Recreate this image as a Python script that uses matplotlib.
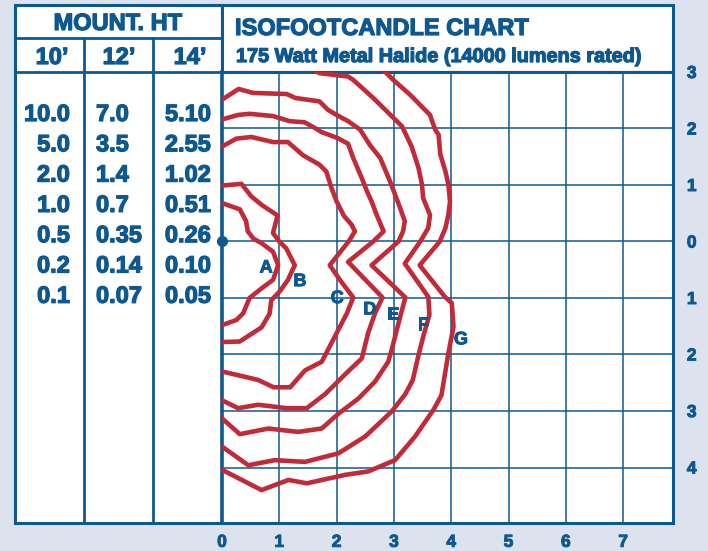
import matplotlib.pyplot as plt
from matplotlib import font_manager as fm
from matplotlib import patheffects as pe
from matplotlib.patches import Rectangle
from matplotlib.ticker import FuncFormatter

BLUE = '#0e5891'
RED = '#c12a37'
BG = '#dce3ee'


def pick_bold_family():
    # first family that really has a bold face installed
    for fam in ['Liberation Sans', 'Arimo', 'Roboto', 'Noto Sans', 'Open Sans', 'Lato', 'DejaVu Sans']:
        try:
            path = fm.findfont(fm.FontProperties(family=fam, weight='bold'), fallback_to_default=False)
        except ValueError:
            continue
        if 'bold' in path.lower():
            return fam
    return 'DejaVu Sans'


FONT = pick_bold_family()
plt.rcParams['font.family'] = [FONT, 'DejaVu Sans']
plt.rcParams['font.weight'] = 'bold'
HEAVY = [pe.withStroke(linewidth=0.9, foreground=BLUE)]

# table data
mount_heights = ["10\u2019", "12\u2019", "14\u2019"]
fc_10ft = ["10.0", "5.0", "2.0", "1.0", "0.5", "0.2", "0.1"]
fc_12ft = ["7.0", "3.5", "1.4", "0.7", "0.35", "0.14", "0.07"]
fc_14ft = ["5.10", "2.55", "1.02", "0.51", "0.26", "0.10", "0.05"]

x_ticks = [0, 1, 2, 3, 4, 5, 6, 7]
y_ticks = [3, 2, 1, 0, -1, -2, -3, -4]

# isofootcandle curves (grid units, y negative below the fixture)
a_x = [0, 0.31, 0.42, 0.45, 0.55, 0.69, 0.89, 0.98, 0.89, 0.69, 0.48, 0.37, 0.25, 0]
a_y = [0.68, 0.57, 0.36, 0.18, 0.05, -0.03, -0.18, -0.42, -0.68, -0.83, -1.0, -1.27, -1.39, -1.48]

b_x = [0, 0.34, 0.51, 0.69, 0.97, 0.89, 1.0, 1.12, 1.27, 1.15, 1.01, 0.86, 0.83, 0.69, 0.31, 0]
b_y = [0.99, 1.02, 0.80, 0.65, 0.46, 0.15, 0.0, -0.12, -0.42, -0.68, -0.88, -1.04, -1.28, -1.52, -1.77, -1.78]

c_x = [0, 0.25, 0.51, 0.89, 1.15, 1.41, 1.70, 1.82, 1.91, 2.0, 2.13, 2.26, 2.32, 2.21, 1.88,
       2.08, 2.29, 2.18, 1.94, 1.74, 1.45, 1.19, 0.90, 0.63, 0]
c_y = [1.68, 1.82, 1.85, 1.76, 1.76, 1.53, 1.36, 1.24, 0.95, 0.71, 0.45, 0.30, 0.18, 0.0, -0.42,
       -0.71, -0.99, -1.27, -1.74, -2.13, -2.28, -2.58, -2.58, -2.45, -2.30]

d_x = [0, 0.28, 0.48, 0.89, 1.18, 1.44, 1.62, 1.73, 2.02, 2.20, 2.29, 2.44, 2.53, 2.61, 2.70, 2.82,
       2.64, 2.20, 2.80, 2.67, 2.55, 2.44, 2.20, 1.80, 1.48, 1.13, 0.63, 0.28, 0]
d_y = [2.16, 2.24, 2.26, 2.22, 2.13, 2.11, 2.01, 1.94, 1.83, 1.73, 1.48, 1.12, 0.89, 0.71, 0.47, 0.18,
       0.0, -0.36, -0.99, -1.27, -1.62, -2.07, -2.30, -2.70, -2.95, -2.95, -2.89, -2.95, -2.81]

e_x = [0, 0.29, 0.54, 1.13, 1.28, 1.70, 1.85, 2.0, 2.20, 2.41, 2.58, 2.76, 2.93, 3.02, 3.11, 3.19,
       3.16, 3.08, 2.61, 3.20, 3.11, 2.96, 2.90, 2.67, 2.38, 2.03, 1.74, 1.33, 0.81, 0.31, 0]
e_y = [2.51, 2.70, 2.63, 2.61, 2.54, 2.48, 2.33, 2.24, 2.13, 1.98, 1.71, 1.48, 1.07, 0.83, 0.59, 0.36,
       0.18, 0.0, -0.42, -0.99, -1.33, -1.92, -2.13, -2.48, -2.78, -3.05, -3.31, -3.37, -3.31, -3.41, -3.13]

f_x = [1.50, 1.70, 2.20, 2.29, 2.64, 2.99, 3.14, 3.31, 3.43, 3.49, 3.51, 3.63, 3.60, 3.46, 3.19,
       3.60, 3.62, 3.52, 3.42, 3.33, 3.20, 2.96, 2.50, 2.03, 1.45, 0.92, 0.46, 0]
f_y = [3.10, 2.98, 2.92, 2.86, 2.54, 2.19, 2.04, 1.68, 1.30, 1.01, 0.77, 0.47, 0.24, 0.0, -0.39,
       -0.98, -1.30, -1.65, -2.05, -2.45, -2.70, -3.01, -3.45, -3.75, -3.90, -3.87, -3.96, -3.63]

g_x = [2.70, 2.87, 2.99, 3.28, 3.63, 3.72, 3.78, 3.81, 3.90, 3.95, 3.98, 3.95, 3.90, 3.80, 3.45,
       3.89, 4.01, 4.04, 3.95, 3.83, 3.69, 3.37, 3.02, 2.55, 2.15, 1.48, 1.16, 0.69, 0]
g_y = [3.15, 2.98, 2.86, 2.60, 2.24, 1.98, 1.89, 1.54, 1.24, 1.01, 0.71, 0.47, 0.24, 0.0, -0.42,
       -0.98, -1.09, -1.51, -1.98, -2.72, -2.98, -3.45, -3.87, -4.07, -4.13, -4.28, -4.22, -4.40, -4.04]

curve_names = ["A", "B", "C", "D", "E", "F", "G"]
label_x = [0.77, 1.36, 2.01, 2.58, 2.98, 3.51, 4.17]
label_y = [-0.47, -0.71, -1.01, -1.21, -1.30, -1.48, -1.74]

fig = plt.figure(figsize=(7.08, 5.51), dpi=100, facecolor=BG)

# frame, table and header drawn in pixel space
ax0 = fig.add_axes([0, 0, 1, 1])
ax0.set_xlim(0, 708)
ax0.set_ylim(551, 0)
ax0.axis('off')
ax0.add_patch(Rectangle((15, 5), 207, 518, facecolor='white', edgecolor=BLUE, lw=2.2))
ax0.add_patch(Rectangle((222, 5), 451, 67, facecolor='white', edgecolor=BLUE, lw=2.2))
ax0.plot([15, 222], [38, 38], color=BLUE, lw=2.0)
ax0.plot([15, 222], [72, 72], color=BLUE, lw=2.0)
for cx in [84, 153]:
    ax0.plot([cx, cx], [38, 523], color=BLUE, lw=2.0)

txt = dict(color=BLUE, fontweight='bold', fontsize=17, path_effects=HEAVY)
ax0.text(118, 30, "MOUNT. HT", ha='center', va='baseline', **txt)
for cx, h in zip([52, 119, 190], mount_heights):
    ax0.text(cx, 64, h, ha='center', va='baseline', **txt)
for i in range(len(fc_10ft)):
    yb = 121 + i * 30.3
    ax0.text(70, yb, fc_10ft[i], ha='right', va='baseline', **txt)
    ax0.text(96, yb, fc_12ft[i], ha='left', va='baseline', **txt)
    ax0.text(211, yb, fc_14ft[i], ha='right', va='baseline', **txt)

ax0.text(235, 35, "ISOFOOTCANDLE CHART", ha='left', va='baseline', **txt)
ax0.text(236, 62, "175 Watt Metal Halide (14000 lumens rated)", ha='left', va='baseline',
         color=BLUE, fontweight='bold', fontsize=14.3, path_effects=HEAVY)

# chart
ax = fig.add_axes([222 / 708, 28 / 551, 451 / 708, 451 / 551])
ax.set_facecolor('white')
ax.set_xlim(0, 451 / 57.3)
ax.set_ylim(3 - 451 / 56.5, 3)
ax.set_xticks(x_ticks)
ax.set_yticks(y_ticks)
ax.yaxis.tick_right()
ax.yaxis.set_major_formatter(FuncFormatter(lambda v, p: f"{abs(int(round(v)))}"))
ax.tick_params(length=0, labelsize=12.5, labelcolor=BLUE)
ax.tick_params(axis='x', pad=8.5)
ax.tick_params(axis='y', pad=10)
for lab in ax.get_xticklabels() + ax.get_yticklabels():
    lab.set_fontweight('bold')
    lab.set_path_effects([pe.withStroke(linewidth=0.7, foreground=BLUE)])
ax.grid(True, color=BLUE, lw=1.1)
ax.set_axisbelow(True)
for side in ['left', 'right', 'bottom', 'top']:
    ax.spines[side].set_color(BLUE)
    ax.spines[side].set_linewidth(2.2)
ax.spines['left'].set_linewidth(2.6)

for cx, cy in [(a_x, a_y), (b_x, b_y), (c_x, c_y), (d_x, d_y), (e_x, e_y), (f_x, f_y), (g_x, g_y)]:
    ax.plot(cx, cy, color=RED, lw=3.3, zorder=3)

for name, lx, ly in zip(curve_names, label_x, label_y):
    ax.text(lx, ly, name, ha='center', va='center', fontsize=13, fontweight='bold', color=BLUE,
            zorder=4, path_effects=[pe.withStroke(linewidth=0.7, foreground=BLUE)])

ax.plot([0], [0], 'o', ms=7, color=BLUE, clip_on=False, zorder=5)

fig.savefig('out.png', dpi=100, facecolor=BG)
